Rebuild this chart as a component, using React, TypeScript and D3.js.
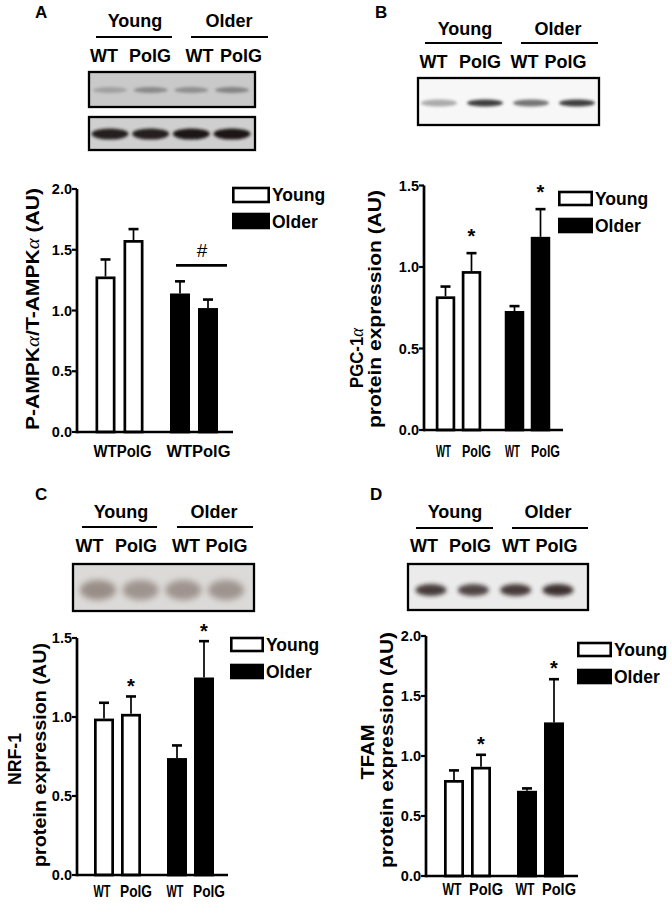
import React from "react";
import * as d3 from "d3";

const FONT = "'Liberation Sans', Arial, Helvetica, sans-serif";

// ---- categories ----
const groups = ["Young", "Older"];
const genotypes = ["WT", "PolG"];
const laneLabels = ["WT", "PolG", "WT", "PolG"];

// ---- series values (order: Young WT, Young PolG, Older WT, Older PolG) ----
const ampkMean = [1.28, 1.58, 1.14, 1.02];
const ampkErr = [0.14, 0.09, 0.1, 0.07];
const pgcMean = [0.82, 0.975, 0.73, 1.185];
const pgcErr = [0.06, 0.11, 0.03, 0.17];
const nrfMean = [0.99, 1.02, 0.74, 1.25];
const nrfErr = [0.1, 0.11, 0.08, 0.23];
const tfamMean = [0.8, 0.91, 0.71, 1.28];
const tfamErr = [0.08, 0.1, 0.02, 0.36];

// significance marks per bar
const pgcStars = [false, true, false, true];
const nrfStars = [false, true, false, true];
const tfamStars = [false, true, false, true];

// blot lane band intensities
const ampkPhosphoBands = [0.35, 0.55, 0.5, 0.6];
const ampkTotalBands = [0.95, 0.95, 1, 1];
const pgcBands = [0.35, 0.85, 0.6, 0.85];
const nrfBands = [0.6, 0.55, 0.55, 0.55];
const tfamBands = [0.85, 0.8, 0.85, 0.9];

type ChartCfg = {
  axisX: number; xEnd: number; y0: number; y1: number; max: number; nTicks: number;
  c1: number; s: number; g: number; barW: number;
  legendX: number; legendW: number; legendY: number[]; legendH: number; legendTextY: number[];
  starGap: number;
};

function scales(c: ChartCfg) {
  const y = d3.scaleLinear().domain([0, c.max]).range([c.y0, c.y1]);
  const outer = d3
    .scaleBand()
    .domain(groups)
    .range([c.c1 - c.s / 2, c.c1 - c.s / 2 + c.g + 2 * c.s])
    .paddingInner(1 - (2 * c.s) / c.g)
    .paddingOuter(0);
  const inner = d3.scaleBand().domain(genotypes).range([0, outer.bandwidth()]);
  const cx = (gName: string, k: string) =>
    (outer(gName) as number) + (inner(k) as number) + inner.bandwidth() / 2;
  return { y, outer, inner, cx };
}

function Chart({ means, errs, stars, c }: { means: number[]; errs: number[]; stars?: boolean[]; c: ChartCfg }) {
  const { y, cx } = scales(c);
  const ticks = y.ticks(c.nTicks);
  const fmt = d3.format(".1f");
  const sw = 2.7;
  const bars: any[] = [];
  groups.forEach((gName, gi) =>
    genotypes.forEach((k, ki) => {
      const i = gi * 2 + ki;
      bars.push({ i, cx: cx(gName, k), gi, m: means[i], e: errs[i] });
    })
  );
  return (
    <g>
      {bars.map((b) => (
        <g key={b.i}>
          <line x1={b.cx} x2={b.cx} y1={y(b.m)} y2={y(b.m + b.e)} stroke="#000" strokeWidth={1.7} />
          <line x1={b.cx - 5} x2={b.cx + 5} y1={y(b.m + b.e)} y2={y(b.m + b.e)} stroke="#000" strokeWidth={2.6} />
          <rect
            x={b.cx - c.barW / 2 + sw / 2}
            y={y(b.m) + sw / 2}
            width={c.barW - sw}
            height={y(0) - y(b.m) - sw / 2}
            fill={b.gi === 0 ? "#fff" : "#000"}
            stroke="#000"
            strokeWidth={sw}
          />
          {stars && stars[b.i] && (
            <text x={b.cx} y={y(b.m + b.e) - c.starGap + 11} textAnchor="middle" fontFamily={FONT} fontWeight="bold" fontSize={20}>
              *
            </text>
          )}
        </g>
      ))}
      <line x1={c.axisX} x2={c.axisX} y1={y(c.max)} y2={y(0) + 1.3} stroke="#000" strokeWidth={sw} />
      <line x1={c.axisX} x2={c.xEnd} y1={y(0)} y2={y(0)} stroke="#000" strokeWidth={sw} />
      {ticks.map((t) => (
        <g key={t}>
          <line x1={c.axisX - 5} x2={c.axisX} y1={y(t)} y2={y(t)} stroke="#000" strokeWidth={2.2} />
          <text x={c.axisX - 5} y={y(t)} dy="0.36em" textAnchor="end" fontFamily={FONT} fontWeight="bold" fontSize={14.5}>
            {fmt(t)}
          </text>
        </g>
      ))}
      {groups.map((gName, gi) => (
        <g key={gName}>
          <rect
            x={c.legendX + 1.3}
            y={c.legendY[gi]}
            width={c.legendW - 2.6}
            height={c.legendH}
            fill={gi === 0 ? "#fff" : "#000"}
            stroke="#000"
            strokeWidth={2.6}
          />
          <text x={c.legendX + c.legendW + 2} y={c.legendTextY[gi]} fontFamily={FONT} fontWeight="bold" fontSize={17.5}>
            {gName}
          </text>
        </g>
      ))}
    </g>
  );
}

// text squeezed/stretched to a given length, centred on cx
function FitText({ cx, y, len, size, children, rotate, weight = "bold" }: any) {
  if (rotate) {
    return (
      <text
        transform={`translate(${cx},${y}) rotate(-90)`}
        x={-len / 2}
        y={0}
        dominantBaseline="central"
        fontFamily={FONT}
        fontWeight={weight}
        fontSize={size}
        textLength={len}
        lengthAdjust="spacingAndGlyphs"
      >
        {children}
      </text>
    );
  }
  return (
    <text x={cx - len / 2} y={y} fontFamily={FONT} fontWeight={weight} fontSize={size} textLength={len} lengthAdjust="spacingAndGlyphs">
      {children}
    </text>
  );
}

function XLabels({ c, baseline, wWT, wPolG }: { c: ChartCfg; baseline: number; wWT: number; wPolG: number }) {
  const { cx } = scales(c);
  return (
    <g>
      {groups.flatMap((gName) =>
        genotypes.map((k) => (
          <FitText
            key={gName + k}
            cx={cx(gName, k) + (k === "WT" ? -2 : 5)}
            y={baseline}
            len={k === "WT" ? wWT : wPolG}
            size={17}
          >
            {k}
          </FitText>
        ))
      )}
    </g>
  );
}

type BlotCfg = {
  id: string; x: number; y: number; w: number; h: number; bg: string; color: string;
  bandY: number; bandH: number; bandW: number; lanes: [number, number]; blur: number; vals: number[];
};

function Blot({ b }: { b: BlotCfg }) {
  const lane = d3.scalePoint().domain(laneLabels.map((_, i) => String(i))).range(b.lanes);
  return (
    <g>
      <defs>
        <filter id={b.id} x="-50%" y="-100%" width="200%" height="300%">
          <feGaussianBlur stdDeviation={b.blur} />
        </filter>
        <clipPath id={b.id + "c"}>
          <rect x={b.x} y={b.y} width={b.w} height={b.h} />
        </clipPath>
      </defs>
      <rect x={b.x} y={b.y} width={b.w} height={b.h} fill={b.bg} />
      <g clipPath={`url(#${b.id}c)`}>
        {b.vals.map((v, i) => (
          <ellipse
            key={i}
            cx={lane(String(i)) as number}
            cy={b.bandY}
            rx={b.bandW / 2}
            ry={b.bandH / 2}
            fill={b.color}
            opacity={v}
            filter={`url(#${b.id})`}
          />
        ))}
      </g>
      <rect x={b.x} y={b.y} width={b.w} height={b.h} fill="none" stroke="#000" strokeWidth={2.3} />
    </g>
  );
}

type HeaderCfg = {
  letter: string; letterX: number; letterY: number; groupX: number[]; groupY: number;
  lines: [number, number][]; lineY: number; laneX: number[]; laneY: number;
};

function Header({ h }: { h: HeaderCfg }) {
  return (
    <g fontFamily={FONT} fontWeight="bold">
      <text x={h.letterX} y={h.letterY} fontSize={17}>
        {h.letter}
      </text>
      {groups.map((gName, i) => (
        <g key={gName}>
          <text x={h.groupX[i]} y={h.groupY} textAnchor="middle" fontSize={18}>
            {gName}
          </text>
          <line x1={h.lines[i][0]} x2={h.lines[i][1]} y1={h.lineY} y2={h.lineY} stroke="#000" strokeWidth={2.2} />
        </g>
      ))}
      {laneLabels.map((l, i) => (
        <text key={i} x={h.laneX[i]} y={h.laneY} textAnchor="middle" fontSize={18}>
          {l}
        </text>
      ))}
    </g>
  );
}

const alpha = (
  <tspan fontFamily="'Liberation Serif', 'DejaVu Serif', serif" fontStyle="italic" fontWeight="normal">
    α
  </tspan>
);

export default function App() {
  const cA: ChartCfg = {
    axisX: 77, xEnd: 233, y0: 432, y1: 189, max: 2, nTicks: 4, c1: 105.5, s: 28, g: 74.5, barW: 20,
    legendX: 232, legendW: 38, legendY: [188, 214], legendH: 14, legendTextY: [201, 228], starGap: 0,
  };
  const cB: ChartCfg = {
    axisX: 424, xEnd: 563, y0: 430, y1: 185.5, max: 1.5, nTicks: 3, c1: 445.5, s: 26, g: 69, barW: 19.5,
    legendX: 558, legendW: 35, legendY: [192, 219], legendH: 13, legendTextY: [205, 232], starGap: 21,
  };
  const cC: ChartCfg = {
    axisX: 77, xEnd: 228, y0: 875, y1: 638, max: 1.5, nTicks: 3, c1: 104, s: 27, g: 73, barW: 20,
    legendX: 230, legendW: 34, legendY: [638, 665], legendH: 13, legendTextY: [651, 678], starGap: 14,
  };
  const cD: ChartCfg = {
    axisX: 426, xEnd: 578, y0: 876, y1: 636, max: 2, nTicks: 4, c1: 454, s: 27, g: 73, barW: 20,
    legendX: 577, legendW: 35, legendY: [643, 670], legendH: 13, legendTextY: [656, 683], starGap: 15,
  };

  const { y: yA, outer: oA } = scales(cA);
  const hashY = yA(ampkMean[2] + ampkErr[2]) - 16;

  return (
    <svg width={672} height={906} style={{ position: "absolute", left: 0, top: 0, background: "#fff" }}>
      <rect width={672} height={906} fill="#fff" />

      {/* Panel A */}
      <Header
        h={{
          letter: "A", letterX: 35, letterY: 18, groupX: [135, 229], groupY: 27,
          lines: [[96, 172], [191, 268]], lineY: 37, laneX: [104, 150, 199.5, 241], laneY: 62,
        }}
      />
      <Blot
        b={{
          id: "bA1", x: 89, y: 72, w: 166, h: 35, bg: "#c9c9c9", color: "#555", bandY: 90, bandH: 6,
          bandW: 34, lanes: [110, 232], blur: 1.6, vals: ampkPhosphoBands,
        }}
      />
      <Blot
        b={{
          id: "bA2", x: 89, y: 117, w: 166, h: 33, bg: "#cfcfcf", color: "#1c1212", bandY: 134, bandH: 11,
          bandW: 37, lanes: [110, 232], blur: 1.6, vals: ampkTotalBands,
        }}
      />
      <Chart means={ampkMean} errs={ampkErr} c={cA} />
      <line x1={176} x2={227} y1={hashY} y2={hashY} stroke="#000" strokeWidth={2.7} />
      <text x={202} y={hashY - 8} textAnchor="middle" fontFamily={FONT} fontSize={19}>
        #
      </text>
      {groups.map((gName, gi) => (
        <FitText key={gName} cx={(oA(gName) as number) + oA.bandwidth() / 2 + (gi === 0 ? 3 : 4.5)} y={457} len={gi === 0 ? 58 : 64} size={16}>
          WTPolG
        </FitText>
      ))}
      <FitText rotate cx={33} y={309} len={242} size={18}>
        P-AMPK{alpha}/T-AMPK{alpha} (AU)
      </FitText>

      {/* Panel B */}
      <Header
        h={{
          letter: "B", letterX: 375, letterY: 18, groupX: [465, 558], groupY: 35,
          lines: [[425, 502], [521, 598]], lineY: 43, laneX: [433.5, 480, 524.5, 565.5], laneY: 68,
        }}
      />
      <Blot
        b={{
          id: "bB", x: 418, y: 78, w: 181, h: 47, bg: "#f7f7f7", color: "#1e1e1e", bandY: 103, bandH: 7,
          bandW: 36, lanes: [439, 577], blur: 1.4, vals: pgcBands,
        }}
      />
      <Chart means={pgcMean} errs={pgcErr} stars={pgcStars} c={cB} />
      <XLabels c={cB} baseline={457} wWT={15} wPolG={29} />
      <FitText rotate cx={357} y={358} len={60} size={18}>
        PGC-1{alpha}
      </FitText>
      <FitText rotate cx={375} y={309} len={238} size={18}>
        protein expression (AU)
      </FitText>

      {/* Panel C */}
      <Header
        h={{
          letter: "C", letterX: 35, letterY: 500, groupX: [121, 214], groupY: 518,
          lines: [[82, 157], [177, 253]], lineY: 527, laneX: [89.5, 136, 186, 226.5], laneY: 552,
        }}
      />
      <Blot
        b={{
          id: "bC", x: 73, y: 564, w: 181, h: 47, bg: "#dcdad8", color: "#6d5c52", bandY: 590, bandH: 20,
          bandW: 36, lanes: [98, 226], blur: 3, vals: nrfBands,
        }}
      />
      <Chart means={nrfMean} errs={nrfErr} stars={nrfStars} c={cC} />
      <XLabels c={cC} baseline={897} wWT={17} wPolG={32} />
      <FitText rotate cx={15} y={759} len={52} size={18}>
        NRF-1
      </FitText>
      <FitText rotate cx={40} y={755} len={224} size={18}>
        protein expression (AU)
      </FitText>

      {/* Panel D */}
      <Header
        h={{
          letter: "D", letterX: 370, letterY: 500, groupX: [455, 548], groupY: 518,
          lines: [[416, 493], [512, 588]], lineY: 528, laneX: [424, 470, 516, 556.5], laneY: 552,
        }}
      />
      <Blot
        b={{
          id: "bD", x: 408, y: 564, w: 180, h: 46, bg: "#ebebeb", color: "#2c1e1a", bandY: 590, bandH: 12,
          bandW: 31, lanes: [431, 558], blur: 2, vals: tfamBands,
        }}
      />
      <Chart means={tfamMean} errs={tfamErr} stars={tfamStars} c={cD} />
      <XLabels c={cD} baseline={895} wWT={19} wPolG={34} />
      <FitText rotate cx={368} y={752} len={55} size={18}>
        TFAM
      </FitText>
      <FitText rotate cx={387} y={750} len={236} size={18}>
        protein expression (AU)
      </FitText>
    </svg>
  );
}
